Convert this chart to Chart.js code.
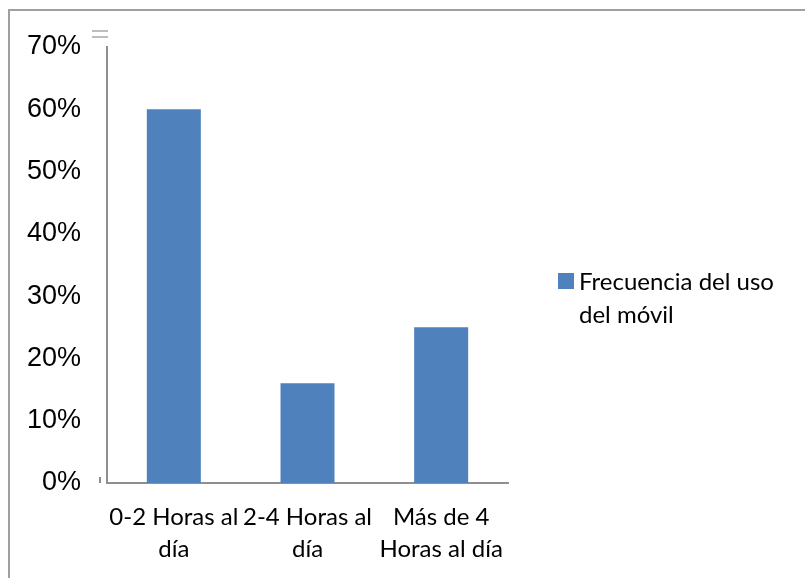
<!doctype html>
<html lang="es">
  <head>
    <meta charset="utf-8">
    <script src="https://cdn.jsdelivr.net/npm/chart.js@4.4.1/dist/chart.umd.min.js"></script>
    <title>Frecuencia del uso del móvil</title>
    <style>
      html, body { margin: 0; padding: 0; background: #fff; overflow: hidden; }
      #wrap { position: relative; width: 805px; height: 578px; }
    </style>
  </head>
  <body>
    <div id="wrap"><canvas id="grafica"></canvas></div>

  <script>

    // datos
    const categorias = [["0-2 Horas al", "día"], ["2-4 Horas al", "día"], ["Más de 4", "Horas al día"]];
    const serieNombre = "Frecuencia del uso del móvil";
    const serieLeyenda = ["Frecuencia del uso", "del móvil"];
    const valores = [60, 16, 25];
    const ejeY = { min: 0, max: 70, paso: 10 };

    const azul = "#4f81bd";
    const gris = "#8f8f8f";

    // marco, leyenda y pequeñas marcas del original
    const extras = {
      id: "extras",
      beforeDraw(chart) {
        const ctx = chart.ctx;
        ctx.save();
        ctx.fillStyle = "#fff";
        ctx.fillRect(0, 0, chart.width, chart.height);
        ctx.strokeStyle = "#a0a0a0";
        ctx.lineWidth = 2;
        ctx.beginPath();
        ctx.moveTo(9, chart.height);
        ctx.lineTo(9, 10);
        ctx.lineTo(chart.width, 10);
        ctx.stroke();
        ctx.restore();
      },
      afterDraw(chart) {
        const ctx = chart.ctx;
        const a = chart.chartArea;
        ctx.save();
        // las dos rayitas sobre el eje
        ctx.strokeStyle = "#a8a8a8";
        ctx.lineWidth = 1.5;
        ctx.beginPath();
        ctx.moveTo(a.left - 15, a.top - 16); ctx.lineTo(a.left + 1, a.top - 16);
        ctx.moveTo(a.left - 15, a.top - 10); ctx.lineTo(a.left + 1, a.top - 10);
        ctx.stroke();
        ctx.strokeStyle = gris;
        ctx.lineWidth = 2;
        ctx.beginPath();
        ctx.moveTo(a.left - 7, a.bottom - 6); ctx.lineTo(a.left - 7, a.bottom);
        ctx.stroke();

        // leyenda
        const ds = chart.data.datasets[0];
        ctx.fillStyle = ds.backgroundColor;
        ctx.fillRect(558, 273, 16, 16);
        ctx.fillStyle = "#000";
        ctx.font = "24px Lato";
        ctx.textBaseline = "alphabetic";
        serieLeyenda.forEach((t, i) => ctx.fillText(t, 579, 290 + i * 33));
        ctx.restore();
      }
    };

    let canvas = document.getElementById("grafica");
    canvas.width = 805;
    canvas.height = 578;

    var chart = new Chart(canvas.getContext("2d"), {
      type: "bar",
      data: {
        labels: categorias,
        datasets: [
          {
            label: serieNombre,
            backgroundColor: azul,
            data: valores,
            barPercentage: 0.404,
            categoryPercentage: 1
          }
        ]
      },
      options: {
        responsive: false,
        animation: false,
        layout: { padding: { top: 47, right: 297, left: 0, bottom: 0 } },
        plugins: {
          legend: { display: false },
          tooltip: { enabled: false }
        },
        scales: {
          x: {
            grid: { display: false, drawTicks: false },
            border: { display: true, color: gris, width: 2 },
            ticks: {
              autoSkip: false,
              maxRotation: 0,
              padding: 19,
              color: "#000",
              font: { family: "Lato", size: 24, lineHeight: 1.3 }
            },
            afterFit(s) { s.height = 578 - 483; }
          },
          y: {
            min: ejeY.min,
            max: ejeY.max,
            grid: { display: false, drawTicks: false },
            border: { display: true, color: gris, width: 2 },
            ticks: {
              stepSize: ejeY.paso,
              padding: 26,
              color: "#000",
              font: { family: "Liberation Sans", size: 27 },
              callback: v => v + "%"
            },
            afterFit(s) { s.width = 107; }
          }
        }
      },
      plugins: [extras]
    });

  </script>
  </body>
</html>
